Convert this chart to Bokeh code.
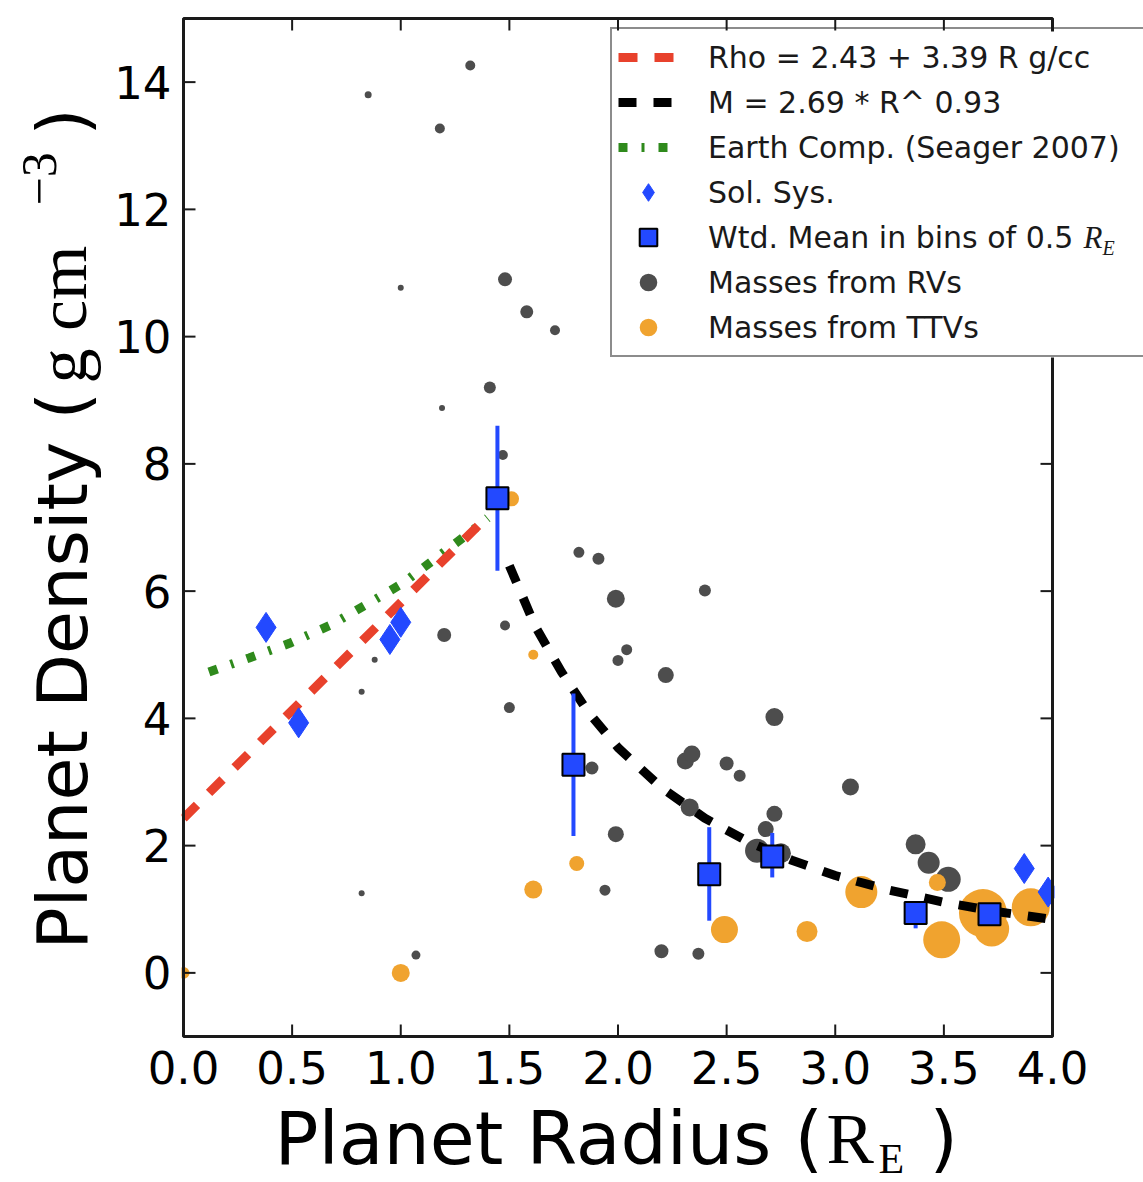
import math
from bokeh.plotting import figure
from bokeh.models import (Range1d, Legend, LegendItem, Label, LabelSet,
                          BoxAnnotation, ColumnDataSource)
from bokeh.core.properties import value
from bokeh.embed import file_html
from bokeh.resources import INLINE

# ---------------- data ----------------
rv_radius = [0.85, 1.32, 1.18, 1.00, 1.48, 1.58, 1.71, 1.41, 1.19, 1.47,
             1.20, 1.48, 1.50, 0.88, 0.82, 0.82, 1.07, 1.82, 1.91, 1.99,
             2.04, 2.00, 2.22, 2.40, 2.72, 1.88, 2.31, 2.34, 2.50, 2.56,
             3.07, 2.33, 2.72, 2.68, 2.64, 2.75, 1.99, 1.94, 2.20, 2.37,
             3.37, 3.43, 3.52]
rv_density = [13.80, 14.26, 13.27, 10.77, 10.90, 10.39, 10.10, 9.20, 8.88, 8.14,
              5.31, 5.46, 4.17, 4.92, 4.42, 1.25, 0.28, 6.61, 6.51, 5.88,
              5.08, 4.91, 4.68, 6.01, 4.02, 3.22, 3.33, 3.44, 3.29, 3.10,
              2.92, 2.60, 2.50, 2.26, 1.92, 1.88, 2.18, 1.30, 0.34, 0.30,
              2.02, 1.73, 1.47]
rv_size = [7, 10, 10, 6, 14, 13, 10, 12, 6, 10,
           14, 10, 11, 6, 6, 6, 9, 11, 12, 18,
           11, 11, 16, 12, 18, 13, 17, 17, 14, 12,
           17, 18, 16, 16, 24, 20, 16, 11, 14, 12,
           20, 22, 25]

ttv_radius = [0.00, 1.00, 1.51, 1.61, 1.61, 1.81, 2.49, 2.87, 3.12, 3.47,
              3.49, 3.68, 3.72, 3.90]
ttv_density = [0.00, 0.00, 7.45, 5.00, 1.31, 1.72, 0.68, 0.65, 1.27, 1.42,
               0.52, 0.94, 0.69, 1.03]
ttv_size = [12, 18, 15, 10, 18, 15, 27, 21, 32, 17, 37, 48, 35, 38]

sol_radius = [0.38, 0.53, 0.95, 1.00, 3.87, 3.98]
sol_density = [5.43, 3.93, 5.24, 5.51, 1.64, 1.27]

mean_radius = [1.445, 1.795, 2.42, 2.71, 3.37, 3.71]
mean_density = [7.46, 3.27, 1.55, 1.83, 0.94, 0.92]
mean_err_lo = [6.32, 2.15, 0.82, 1.50, 0.70, 0.85]
mean_err_hi = [8.60, 4.39, 2.29, 2.20, 1.05, 0.97]

rho_fit_radius = [0.0, 1.41]
rho_fit_density = [2.43, 7.21]

mr_fit_radius = [1.50, 1.62, 1.74, 1.86, 2.00, 2.20, 2.40, 2.60, 2.80, 3.00,
                 3.25, 3.50, 3.75, 4.00]
mr_fit_density = [6.40, 5.44, 4.73, 4.11, 3.54, 2.91, 2.43, 2.06, 1.77, 1.53,
                  1.30, 1.11, 0.96, 0.84]

earth_radius = [0.117, 0.302, 0.488, 0.673, 0.843, 1.012, 1.174, 1.336, 1.40]
earth_density = [4.73, 4.95, 5.18, 5.46, 5.79, 6.13, 6.55, 6.97, 7.15]

x_ticks = [0.0, 0.5, 1.0, 1.5, 2.0, 2.5, 3.0, 3.5, 4.0]
x_tick_labels = ["0.0", "0.5", "1.0", "1.5", "2.0", "2.5", "3.0", "3.5", "4.0"]
y_ticks = [0, 2, 4, 6, 8, 10, 12, 14]
y_tick_labels = ["0", "2", "4", "6", "8", "10", "12", "14"]

legend_labels = ["Rho = 2.43 + 3.39 R g/cc", "M = 2.69 * R^ 0.93",
                 "Earth Comp. (Seager 2007)", "Sol. Sys.",
                 "Wtd. Mean in bins of 0.5", "Masses from RVs", "Masses from TTVs"]

# axis limits
X_MIN, X_MAX = 0.0, 4.0
Y_MIN, Y_MAX = -1.0, 15.0

# ---------------- layout (pixels) ----------------
W, H = 1143, 1182
AREA_L, AREA_R, AREA_T, AREA_B = 183, 1052, 18, 1036
ux = (X_MAX - X_MIN) / (AREA_R - AREA_L)
uy = (Y_MAX - Y_MIN) / (AREA_B - AREA_T)
x_range = Range1d(X_MIN - AREA_L * ux, X_MAX + (W - AREA_R) * ux)
y_range = Range1d(Y_MIN - (H - AREA_B) * uy, Y_MAX + AREA_T * uy)
GAP = 2  # px kept free around the axes box by the masking boxes

def px_x(px):
    return X_MIN + (px - AREA_L) * ux

def px_y(py):
    return Y_MAX - (py - AREA_T) * uy

LEG_L, LEG_T, LEG_H = 610, 31, 326

# ---------------- colours ----------------
GRAY = "#4d4d4d"
ORANGE = "#f0a32f"
RED = "#e8412c"
GREEN = "#2f8a1c"
BLUE = "#2349ff"
INK = "#1a1a1a"

p = figure(width=W, height=H, x_range=x_range, y_range=y_range,
           output_backend="svg", toolbar_location=None,
           x_axis_location=None, y_axis_location=None,
           min_border=0)
p.xgrid.visible = False
p.ygrid.visible = False
p.outline_line_color = None
p.background_fill_color = "white"
p.border_fill_color = "white"

# ---------------- data glyphs ----------------
gray = p.scatter(x=rv_radius, y=rv_density, size=rv_size, fill_color=GRAY,
                 line_color=None)
orange = p.scatter(x=ttv_radius, y=ttv_density, size=ttv_size, fill_color=ORANGE,
                   line_color=None)
green = p.line(earth_radius, earth_density, line_color=GREEN, line_width=9,
               line_dash="9 14 3 14")
red = p.line(rho_fit_radius, rho_fit_density, line_color=RED, line_width=9,
             line_dash="19 17")
black = p.line(mr_fit_radius, mr_fit_density, line_color="black", line_width=9,
               line_dash="18 17")
sol = p.scatter(x=sol_radius, y=sol_density, marker="diamond", size=30,
                fill_color=BLUE, line_color=BLUE, line_width=1)
p.segment(x0=mean_radius, y0=mean_err_lo, x1=mean_radius, y1=mean_err_hi,
          line_color=BLUE, line_width=4)
sq = p.scatter(x=mean_radius, y=mean_density, marker="square", size=22,
               fill_color=BLUE, line_color="black", line_width=2)

# ---------------- axes box and ticks (guide level) ----------------
p.quad(left=[X_MIN], right=[X_MAX], bottom=[Y_MIN], top=[Y_MAX], fill_color=None,
       line_color=INK, line_width=3, level="guide")
nx, ny = len(x_ticks), len(y_ticks)
tick_kw = dict(length=12, length_units="screen", line_color=INK, line_width=2,
               level="guide")
p.ray(x=x_ticks, y=[Y_MIN] * nx, angle=math.pi / 2, **tick_kw)
p.ray(x=x_ticks, y=[Y_MAX] * nx, angle=-math.pi / 2, **tick_kw)
p.ray(x=[X_MIN] * ny, y=y_ticks, angle=0.0, **tick_kw)
p.ray(x=[X_MAX] * ny, y=y_ticks, angle=math.pi, **tick_kw)

# ---------------- mask everything outside the axes box ----------------
for kw in (dict(right=X_MIN - GAP * ux), dict(left=X_MAX + GAP * ux),
           dict(top=Y_MIN - GAP * uy), dict(bottom=Y_MAX + GAP * uy)):
    p.add_layout(BoxAnnotation(fill_color="white", fill_alpha=1.0, line_alpha=0.0, **kw))

# white backing of the legend (the legend itself is transparent)
p.add_layout(BoxAnnotation(left=px_x(LEG_L), top=px_y(LEG_T),
                           bottom=px_y(LEG_T + LEG_H), fill_color="white",
                           fill_alpha=1.0, line_alpha=0.0))

# ---------------- tick labels ----------------
xsrc = ColumnDataSource(dict(x=x_ticks, y=[Y_MIN] * nx, text=x_tick_labels))
ysrc = ColumnDataSource(dict(x=[X_MIN] * ny, y=y_ticks, text=y_tick_labels))
p.add_layout(LabelSet(x="x", y="y", text="text", source=xsrc, y_offset=-14,
                      text_align="center", text_baseline="top",
                      text_font=value("DejaVu Sans"), text_font_size=value("45px"),
                      text_color="black"))
p.add_layout(LabelSet(x="x", y="y", text="text", source=ysrc, x_offset=-12,
                      text_align="right", text_baseline="middle",
                      text_font=value("DejaVu Sans"), text_font_size=value("45px"),
                      text_color="black"))

# ---------------- axis titles ----------------
SHIFT = 0.37  # baseline correction (fraction of the font size)

def hlab(x, base_y, text, font, size, style="normal", color="black"):
    p.add_layout(Label(x=x, y=H - base_y + SHIFT * size, x_units="screen",
                       y_units="screen", text=text, text_font=font,
                       text_font_size=f"{size}px", text_font_style=style,
                       text_baseline="alphabetic", text_align="left",
                       text_color=color))

def vlab(base_x, start_y, text, font, size):
    p.add_layout(Label(x=base_x - SHIFT * size, y=H - start_y, x_units="screen",
                       y_units="screen", text=text, text_font=font,
                       text_font_size=f"{size}px", angle=math.pi / 2,
                       text_baseline="alphabetic", text_align="left",
                       text_color="black"))

hlab(274, 1165, "Planet Radius (", "DejaVu Sans", 73)
hlab(826, 1165, "R", "Liberation Serif", 71)
hlab(878, 1174, "E", "Liberation Serif", 42)
hlab(929, 1165, ")", "DejaVu Sans", 73)

vlab(88, 949, "Planet Density (", "DejaVu Sans", 70)
vlab(88, 383, "g cm", "Liberation Serif", 70)
vlab(57, 205, "\u22123", "Liberation Serif", 50)
vlab(88, 135, ")", "DejaVu Sans", 70)

# R_E of the "Wtd. Mean" legend entry, in math style
hlab(1083, 248, "R", "Liberation Serif", 31, style="italic", color=INK)
hlab(1102, 255, "E", "Liberation Serif", 20, style="italic", color=INK)

# ---------------- legend ----------------
rends = [red, black, green, sol, sq, gray, orange]
items = [LegendItem(label=t, renderers=[r]) for t, r in zip(legend_labels, rends)]
legend = Legend(items=items, location=(LEG_L, H - LEG_T - LEG_H), glyph_width=60,
                glyph_height=44, label_height=44, spacing=1, padding=6,
                label_standoff=30, label_text_font="DejaVu Sans",
                label_text_font_size="30px", label_text_color=INK, label_width=440,
                border_line_color=INK, border_line_width=2,
                background_fill_alpha=0.0, margin=0)
p.add_layout(legend)

open("out.html", "w").write(file_html(p, INLINE))
